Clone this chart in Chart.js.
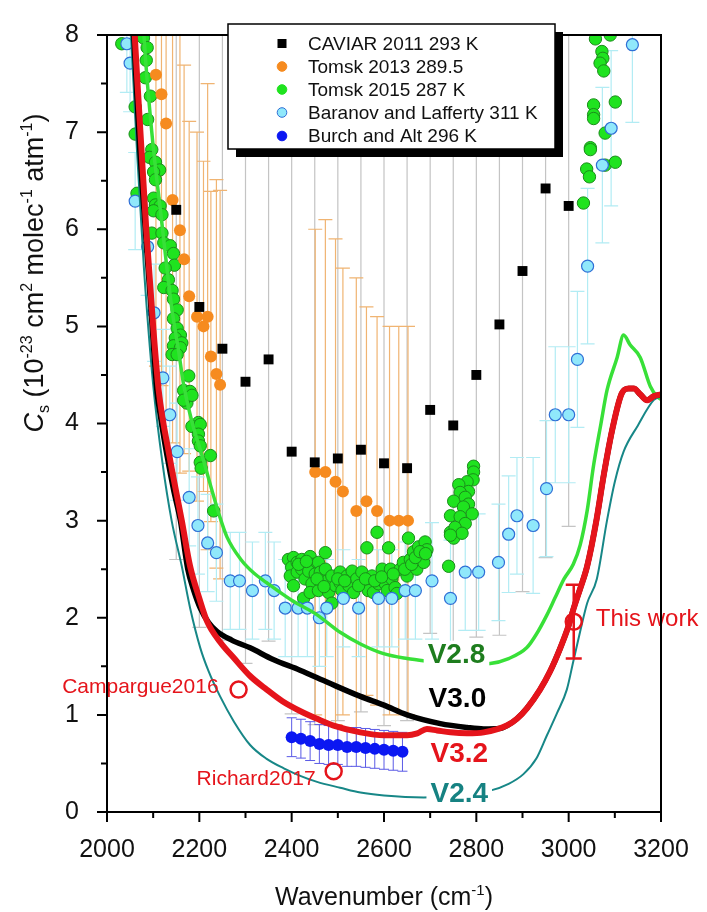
<!DOCTYPE html>
<html>
<head>
<meta charset="utf-8">
<title>Water vapour self-continuum</title>
<script src="https://cdn.jsdelivr.net/npm/chart.js@4.4.1/dist/chart.umd.min.js"></script>
<style>
  body { margin: 0; background: #fff; }
  canvas { display: block; }
</style>
</head>
<body>
<canvas id="chart" width="707" height="912"></canvas>
<script>
// ---- data (wavenumber in cm-1, Cs in 1e-23 cm2 molec-1 atm-1) ----
const xTicks = [2000, 2200, 2400, 2600, 2800, 3000, 3200];
const yTicks = [0, 1, 2, 3, 4, 5, 6, 7, 8];

const caviarX = [2150, 2200, 2250, 2300, 2350, 2400, 2450, 2500, 2550, 2600, 2650, 2700, 2750, 2800, 2850, 2900, 2950, 3000];
const caviarY = [6.20, 5.20, 4.77, 4.43, 4.66, 3.71, 3.60, 3.64, 3.73, 3.59, 3.54, 4.14, 3.98, 4.50, 5.02, 5.57, 6.42, 6.24];
const caviarErrLow = [3.6, 3.3, 3.0, 2.9, 2.9, 2.7, 2.7, 2.7, 2.7, 2.7, 2.6, 2.3, 2.3, 2.7, 3.2, 3.3, 3.8, 3.3];
const caviarErrHigh = [5, 5, 5, 5, 5, 5, 5, 5, 5, 5, 5, 5, 5, 5, 5, 5, 5, 5];

const tomsk13X = [2106, 2118, 2128, 2142, 2158, 2167, 2178, 2195, 2209, 2218, 2225, 2237, 2245,
                  2451, 2473, 2495, 2511, 2540, 2562, 2585, 2612, 2632, 2652];
const tomsk13Y = [7.59, 7.39, 7.09, 6.30, 5.99, 5.69, 5.31, 5.10, 5.00, 5.10, 4.69, 4.51, 4.40,
                  3.50, 3.50, 3.40, 3.30, 3.10, 3.20, 3.10, 3.00, 3.00, 3.00];
const tomsk13Err = [3.0, 3.0, 3.0, 2.5, 2.5, 2.0, 1.8, 1.9, 1.7, 2.4, 1.7, 2.0, 2.0,
                    2.5, 2.6, 2.5, 2.3, 2.4, 2.0, 2.0, 2.0, 2.0, 2.0];

const tomsk15X = [2032, 2079, 2087, 2085, 2083, 2094, 2061, 2088, 2061, 2097, 2092, 2105, 2114, 2101, 2105, 2065,
  2101, 2105, 2115, 2101, 2119, 2097, 2119, 2123, 2137, 2144, 2146, 2126, 2133, 2123, 2141, 2144, 2152, 2144,
  2152, 2159, 2148, 2162, 2144, 2159, 2141, 2152, 2177, 2166, 2180, 2173, 2166, 2184, 2198, 2184, 2202, 2198,
  2198, 2202, 2224, 2202, 2204, 2231,
  2393, 2404, 2400, 2397, 2412, 2412, 2422, 2422, 2429, 2404, 2426, 2440, 2447, 2437, 2451, 2444, 2440, 2458,
  2473, 2462, 2466, 2458, 2473, 2477, 2480, 2487, 2495, 2505, 2505, 2509, 2487, 2520, 2524, 2531, 2534, 2541,
  2552, 2556, 2563, 2566, 2574, 2577, 2585, 2588, 2596, 2603, 2610, 2614, 2617, 2607, 2624, 2628, 2635, 2642,
  2650, 2653, 2657, 2664, 2671, 2675, 2682, 2689, 2693, 2686, 2415, 2432, 2455, 2470, 2500, 2515, 2545, 2560,
  2580, 2595, 2620, 2645, 2660, 2668, 2678, 2690,
  2740, 2744, 2751, 2794, 2794, 2793, 2780, 2762, 2783, 2765, 2751, 2776, 2783, 2772, 2791, 2744, 2765, 2776,
  2754, 2769, 2744,
  3058, 3090, 3072, 3074, 3068, 3076, 3054, 3101, 3054, 3054, 3079, 3047, 3047, 3039, 3045, 3079, 3101, 3032];
const tomsk15Y = [7.91, 7.97, 7.87, 7.74, 7.56, 7.37, 7.26, 7.13, 6.98, 6.82, 6.74, 6.69, 6.61, 6.59, 6.51, 6.37,
  6.32, 6.25, 6.24, 6.19, 6.15, 5.96, 5.96, 5.86, 5.83, 5.75, 5.63, 5.60, 5.48, 5.40, 5.37, 5.28, 5.17, 5.08,
  4.98, 4.91, 4.88, 4.83, 4.80, 4.78, 4.71, 4.71, 4.49, 4.34, 4.33, 4.21, 4.24, 4.29, 4.01, 3.97, 3.99, 3.89,
  3.82, 3.77, 3.67, 3.60, 3.54, 3.10,
  2.60, 2.62, 2.52, 2.43, 2.57, 2.47, 2.60, 2.50, 2.40, 2.33, 2.20, 2.63, 2.55, 2.48, 2.45, 2.35, 2.26, 2.57,
  2.67, 2.47, 2.36, 2.28, 2.50, 2.38, 2.26, 2.43, 2.33, 2.47, 2.36, 2.28, 2.15, 2.43, 2.33, 2.48, 2.26, 2.40,
  2.47, 2.35, 2.72, 2.28, 2.43, 2.26, 2.88, 2.35, 2.50, 2.35, 2.72, 2.50, 2.40, 2.28, 2.31, 2.25, 2.50, 2.57,
  2.43, 2.82, 2.60, 2.68, 2.50, 2.73, 2.63, 2.78, 2.70, 2.57, 2.55, 2.58, 2.40, 2.32, 2.40, 2.38, 2.33, 2.40,
  2.38, 2.42, 2.45, 2.50, 2.55, 2.62, 2.68, 2.66,
  2.53, 2.88, 2.82, 3.56, 3.50, 3.42, 3.40, 3.37, 3.30, 3.29, 3.20, 3.24, 3.17, 3.14, 3.07, 3.05, 3.04, 2.97,
  2.93, 2.87, 2.85,
  7.96, 8.00, 7.83, 7.76, 7.71, 7.63, 7.28, 7.31, 7.18, 7.14, 6.99, 6.84, 6.82, 6.62, 6.54, 6.66, 6.69, 6.27];

const baranovX = [2043, 2050, 2061, 2088, 2102, 2121, 2136, 2152, 2178, 2197, 2218, 2237, 2267, 2287, 2315, 2343,
  2362, 2386, 2414, 2434, 2460, 2476, 2512, 2545, 2588, 2617, 2646, 2668, 2704, 2744, 2776, 2805, 2848, 2870,
  2888, 2923, 2952, 2971, 3000, 3019, 3041, 3073, 3092, 3138];
const baranovY = [7.91, 7.71, 6.29, 5.82, 5.14, 4.47, 4.09, 3.71, 3.24, 2.95, 2.77, 2.67, 2.38, 2.38, 2.28, 2.38,
  2.28, 2.10, 2.10, 2.10, 2.00, 2.10, 2.20, 2.10, 2.20, 2.20, 2.28, 2.28, 2.38, 2.20, 2.47, 2.47, 2.57, 2.86,
  3.05, 2.95, 3.33, 4.09, 4.09, 4.66, 5.62, 6.66, 7.04, 7.90];
const baranovErr = [0.5, 0.5, 0.5, 0.5, 0.5, 0.5, 0.5, 0.5, 0.5, 0.5, 0.5, 0.5, 0.5, 0.5, 0.5, 0.5,
  0.5, 0.5, 0.5, 0.5, 0.5, 0.5, 0.5, 0.5, 0.5, 0.5, 0.5, 0.5, 0.6, 0.6, 0.6, 0.6, 0.6, 0.6,
  0.6, 0.7, 0.7, 0.7, 0.7, 0.7, 0.8, 0.8, 0.8, 0.8];

const burchX = [2400, 2420, 2440, 2460, 2480, 2500, 2520, 2540, 2560, 2580, 2600, 2620, 2640];
const burchY = [0.77, 0.755, 0.73, 0.70, 0.69, 0.69, 0.67, 0.67, 0.66, 0.65, 0.64, 0.63, 0.62];
const burchErr = [0.2, 0.2, 0.2, 0.2, 0.2, 0.2, 0.2, 0.2, 0.2, 0.2, 0.2, 0.2, 0.2];

// MT_CKD model curves
const v24X = [2040, 2052, 2065, 2080, 2100, 2120, 2140, 2162, 2180, 2202, 2220, 2245, 2275, 2310, 2345, 2383,
  2420, 2455, 2505, 2549, 2600, 2686, 2760, 2830, 2870, 2902, 2930, 2953, 2975, 2996, 3010, 3025, 3040, 3061,
  3083, 3100, 3119, 3150, 3184, 3200];
const v24Y = [9.0, 8.0, 6.8, 5.6, 4.4, 3.6, 3.0, 2.53, 2.1, 1.69, 1.45, 1.19, 0.93, 0.69, 0.55, 0.45,
  0.37, 0.31, 0.25, 0.20, 0.17, 0.15, 0.17, 0.22, 0.29, 0.39, 0.55, 0.79, 1.02, 1.26, 1.55, 1.86, 2.15, 2.4,
  3.0, 3.4, 3.71, 3.98, 4.24, 4.28];

const v28X = [2070, 2080, 2097, 2118, 2140, 2155, 2166, 2185, 2206, 2225, 2245, 2260, 2290, 2318, 2346, 2400,
  2455, 2505, 2549, 2599, 2650, 2700, 2760, 2830, 2870, 2909, 2930, 2953, 2970, 2990, 3010, 3025, 3040, 3054,
  3070, 3083, 3105, 3119, 3133, 3155, 3177, 3191, 3200];
const v28Y = [9.0, 8.0, 7.0, 6.1, 5.2, 4.75, 4.4, 4.0, 3.67, 3.35, 3.03, 2.83, 2.6, 2.46, 2.36, 2.18,
  2.03, 1.85, 1.73, 1.63, 1.58, 1.55, 1.52, 1.53, 1.58, 1.69, 1.83, 2.03, 2.2, 2.4, 2.55, 2.75, 3.1, 3.57,
  4.0, 4.34, 4.68, 4.91, 4.81, 4.68, 4.38, 4.28, 4.25];

const v30X = [2045, 2058, 2070, 2083, 2095, 2108, 2115, 2130, 2145, 2159, 2175, 2188, 2202, 2220, 2238, 2270,
  2310, 2360, 2418, 2480, 2549, 2600, 2650, 2722, 2780, 2816, 2850, 2870, 2888, 2910, 2938, 2960, 2982, 3000,
  3011, 3025, 3040, 3060, 3076, 3095, 3115, 3130, 3141, 3155, 3170, 3184, 3200];
const v30Y = [9.0, 8.0, 6.9, 6.0, 5.2, 4.34, 4.1, 3.67, 3.3, 3.0, 2.5, 2.28, 2.1, 1.95, 1.86, 1.77,
  1.69, 1.57, 1.46, 1.33, 1.19, 1.1, 1.0, 0.91, 0.87, 0.855, 0.86, 0.9, 0.96, 1.07, 1.26, 1.45, 1.69, 1.92,
  2.1, 2.3, 2.53, 3.0, 3.47, 3.95, 4.31, 4.36, 4.36, 4.3, 4.24, 4.28, 4.3];

const v32X = [2048, 2060, 2085, 2100, 2112, 2135, 2162, 2180, 2200, 2217, 2245, 2274, 2310, 2346, 2380, 2418,
  2455, 2491, 2549, 2600, 2650, 2672, 2693, 2715, 2744, 2780, 2816, 2866, 2888, 2910, 2938, 2960, 2982, 3000,
  3011, 3025, 3040, 3060, 3076, 3095, 3115, 3130, 3141, 3155, 3170, 3184, 3200];
const v32Y = [9.0, 8.0, 6.0, 5.0, 4.34, 3.67, 3.0, 2.53, 2.2, 1.96, 1.75, 1.59, 1.4, 1.26, 1.14, 1.04,
  0.96, 0.89, 0.82, 0.79, 0.79, 0.81, 0.855, 0.84, 0.82, 0.81, 0.82, 0.89, 0.96, 1.07, 1.26, 1.45, 1.69, 1.92,
  2.1, 2.3, 2.53, 3.0, 3.47, 3.95, 4.31, 4.36, 4.36, 4.3, 4.24, 4.28, 4.3];

// single reference measurements (open red circles)
const refNames = ['Campargue2016', 'Richard2017', 'This work'];
const refX = [2285, 2491, 3011];
const refY = [1.26, 0.42, 1.96];
const refErr = [0, 0, 0.38];

const legendNames = ['CAVIAR 2011 293 K', 'Tomsk 2013 289.5', 'Tomsk 2015 287 K', 'Baranov and Lafferty 311 K', 'Burch and Alt 296 K'];
const curveNames = ['V2.4', 'V2.8', 'V3.0', 'V3.2'];

// ---- styling ----
const FONT = '"Liberation Sans", Arial, Helvetica, sans-serif';
const RED = '#e5141b';
const COLORS = {
  caviar: '#000000',
  tomsk13: '#f68b1f',
  tomsk15: '#1fe31f', tomsk15Border: '#1b8c1b',
  baranov: '#90e8fb', baranovBorder: '#2f6fd6',
  burch: '#0b17f2',
  v24: '#178787', v28: '#38e038', v30: '#000000', v32: RED
};

function pts(xs, ys) {
  return xs.map((x, i) => ({ x: x, y: ys[i] }));
}

function curve(label, xs, ys, color, width, order) {
  return {
    label: label, data: pts(xs, ys), showLine: true, pointRadius: 0,
    borderColor: color, borderWidth: width, cubicInterpolationMode: 'monotone',
    order: order, clip: 0
  };
}

// error bars, annotations, frame, legend and axis titles
function drawErrorBars(chart, xs, ys, lo, hi, color, width, cap) {
  const ctx = chart.ctx, sx = chart.scales.x, sy = chart.scales.y;
  ctx.save();
  ctx.strokeStyle = color;
  ctx.lineWidth = width;
  ctx.beginPath();
  xs.forEach((xv, i) => {
    if (!lo[i] && !hi[i]) return;
    const x = sx.getPixelForValue(xv);
    const yTop = sy.getPixelForValue(ys[i] + hi[i]);
    const yBot = sy.getPixelForValue(ys[i] - lo[i]);
    ctx.moveTo(x, yTop); ctx.lineTo(x, yBot);
    ctx.moveTo(x - cap / 2, yTop); ctx.lineTo(x + cap / 2, yTop);
    ctx.moveTo(x - cap / 2, yBot); ctx.lineTo(x + cap / 2, yBot);
  });
  ctx.stroke();
  ctx.restore();
}

function richWidth(ctx, parts) {
  let w = 0;
  parts.forEach(p => {
    ctx.font = (p.italic ? 'italic ' : '') + p.size + 'px ' + FONT;
    w += ctx.measureText(p.t).width;
  });
  return w;
}

function drawRich(ctx, parts, cx, baseline) {
  let x = cx - richWidth(ctx, parts) / 2;
  ctx.textAlign = 'left';
  ctx.textBaseline = 'alphabetic';
  parts.forEach(p => {
    ctx.font = (p.italic ? 'italic ' : '') + p.size + 'px ' + FONT;
    ctx.fillText(p.t, x, baseline + (p.dy || 0));
    x += ctx.measureText(p.t).width;
  });
}

const curveLabels = [
  { text: 'V2.8', x: 2757, y: 1.62, color: '#1e7d1e', knockout: true },
  { text: 'V3.0', x: 2759, y: 1.17, color: '#000000', knockout: false },
  { text: 'V3.2', x: 2763, y: 0.60, color: RED, knockout: false },
  { text: 'V2.4', x: 2763, y: 0.19, color: '#168282', knockout: true }
];
const refLabelOffsets = [{ dx: -20, dy: -2, align: 'right' }, { dx: -18, dy: 8, align: 'right' }, { dx: 22, dy: -2, align: 'left' }];

const overlay = {
  id: 'overlay',
  beforeDatasetsDraw(chart) {
    const ctx = chart.ctx, a = chart.chartArea;
    ctx.save();
    ctx.beginPath();
    ctx.rect(a.left, a.top, a.right - a.left, a.bottom - a.top);
    ctx.clip();
    drawErrorBars(chart, caviarX, caviarY, caviarErrLow, caviarErrHigh, '#c4c4c4', 1.2, 14);
    drawErrorBars(chart, tomsk13X, tomsk13Y, tomsk13Err, tomsk13Err, '#f0b472', 1.2, 14);
    drawErrorBars(chart, baranovX, baranovY, baranovErr, baranovErr, '#b2ecf4', 1.2, 14);
    drawErrorBars(chart, burchX, burchY, burchErr, burchErr, '#5a5ae6', 1, 10);
    ctx.restore();
  },
  afterDatasetsDraw(chart) {
    const ctx = chart.ctx, sx = chart.scales.x, sy = chart.scales.y;
    // error bar on this work, drawn over the curves
    drawErrorBars(chart, refX, refY, refErr, refErr, RED, 2.5, 16);

    ctx.save();
    ctx.font = 'bold 28px ' + FONT;
    ctx.textAlign = 'center';
    ctx.textBaseline = 'middle';
    curveLabels.forEach(l => {
      const x = sx.getPixelForValue(l.x), y = sy.getPixelForValue(l.y);
      if (l.knockout) {
        const w = ctx.measureText(l.text).width + 8;
        ctx.fillStyle = '#fff';
        ctx.fillRect(x - w / 2, y - 14, w, 28);
      }
      ctx.fillStyle = l.color;
      ctx.fillText(l.text, x, y + 1);
    });

    ctx.fillStyle = RED;
    refNames.forEach((name, i) => {
      const o = refLabelOffsets[i];
      ctx.font = (i === 2 ? 24 : 21) + 'px ' + FONT;
      ctx.textAlign = o.align;
      ctx.fillText(name, sx.getPixelForValue(refX[i]) + o.dx, sy.getPixelForValue(refY[i]) + o.dy);
    });
    ctx.restore();
  },
  afterDraw(chart) {
    const ctx = chart.ctx, a = chart.chartArea, sx = chart.scales.x, sy = chart.scales.y;
    ctx.save();
    // frame and tick marks
    ctx.strokeStyle = '#000';
    ctx.lineWidth = 2;
    ctx.strokeRect(a.left, a.top, a.right - a.left, a.bottom - a.top);
    ctx.beginPath();
    for (let v = sx.min; v <= sx.max; v += 100) {
      const x = sx.getPixelForValue(v);
      ctx.moveTo(x, a.bottom);
      ctx.lineTo(x, a.bottom + (v % 200 === 0 ? 10 : 6));
    }
    for (let v = sy.min; v <= sy.max; v += 0.5) {
      const y = sy.getPixelForValue(v);
      ctx.moveTo(a.left, y);
      ctx.lineTo(a.left - (Number.isInteger(v) ? 10 : 6), y);
    }
    ctx.stroke();

    // legend with drop shadow
    const lx = 228, ly = 24, lw = 327, lh = 125;
    ctx.fillStyle = '#000';
    ctx.fillRect(lx + 8, ly + 8, lw, lh);
    ctx.fillStyle = '#fff';
    ctx.fillRect(lx, ly, lw, lh);
    ctx.lineWidth = 1.5;
    ctx.strokeRect(lx, ly, lw, lh);
    const rowY = [43.5, 66.5, 89.5, 112.5, 136];
    const markers = [
      { type: 'rect', fill: COLORS.caviar },
      { type: 'circle', fill: COLORS.tomsk13, stroke: COLORS.tomsk13 },
      { type: 'circle', fill: COLORS.tomsk15, stroke: COLORS.tomsk15 },
      { type: 'circle', fill: COLORS.baranov, stroke: COLORS.baranovBorder },
      { type: 'circle', fill: COLORS.burch, stroke: COLORS.burch }
    ];
    legendNames.forEach((name, i) => {
      const m = markers[i], mx = 282, my = rowY[i];
      ctx.fillStyle = m.fill;
      if (m.type === 'rect') {
        ctx.fillRect(mx - 4.5, my - 4.5, 9, 9);
      } else {
        ctx.beginPath();
        ctx.arc(mx, my, 4.8, 0, Math.PI * 2);
        ctx.fill();
        ctx.strokeStyle = m.stroke;
        ctx.lineWidth = 1;
        ctx.stroke();
      }
      ctx.fillStyle = '#111';
      ctx.font = '19px ' + FONT;
      ctx.textAlign = 'left';
      ctx.textBaseline = 'middle';
      ctx.fillText(name, 308, my + 1);
    });

    // axis titles
    ctx.fillStyle = '#111';
    drawRich(ctx, [
      { t: 'Wavenumber (cm', size: 25 },
      { t: '-1', size: 15, dy: -10 },
      { t: ')', size: 25 }
    ], (a.left + a.right) / 2, 905);

    ctx.translate(43, 273);
    ctx.rotate(-Math.PI / 2);
    drawRich(ctx, [
      { t: 'C', size: 27, italic: true },
      { t: 's', size: 16, dy: 6 },
      { t: ' (10', size: 27 },
      { t: '-23', size: 16, dy: -11 },
      { t: ' cm', size: 27 },
      { t: '2', size: 16, dy: -11 },
      { t: ' molec', size: 27 },
      { t: '-1', size: 16, dy: -11 },
      { t: ' atm', size: 27 },
      { t: '-1', size: 16, dy: -11 },
      { t: ')', size: 27 }
    ], 0, 0);
    ctx.restore();
  }
};

const datasets = [
  { label: refNames.join(', '), data: pts(refX, refY), pointRadius: 8, pointBorderWidth: 2.5,
    pointBackgroundColor: 'rgba(0,0,0,0)', pointBorderColor: RED, order: 0, clip: 0 },
  curve(curveNames[3], v32X, v32Y, COLORS.v32, 6, 1),
  curve(curveNames[2], v30X, v30Y, COLORS.v30, 5.5, 2),
  curve(curveNames[0], v24X, v24Y, COLORS.v24, 2, 3),
  curve(curveNames[1], v28X, v28Y, COLORS.v28, 3.5, 4),
  { label: legendNames[4], data: pts(burchX, burchY), pointRadius: 6, pointBorderWidth: 0,
    pointBackgroundColor: COLORS.burch, order: 5, clip: 0 },
  { label: legendNames[0], data: pts(caviarX, caviarY), pointStyle: 'rect', pointRadius: 7, pointBorderWidth: 0,
    pointBackgroundColor: COLORS.caviar, order: 6, clip: 0 },
  { label: legendNames[3], data: pts(baranovX, baranovY), pointRadius: 6, pointBorderWidth: 1.2,
    pointBackgroundColor: COLORS.baranov, pointBorderColor: COLORS.baranovBorder, order: 7, clip: 0 },
  { label: legendNames[1], data: pts(tomsk13X, tomsk13Y), pointRadius: 6, pointBorderWidth: 0,
    pointBackgroundColor: COLORS.tomsk13, order: 8, clip: 0 },
  { label: legendNames[2], data: pts(tomsk15X, tomsk15Y), pointRadius: 6.2, pointBorderWidth: 1,
    pointBackgroundColor: COLORS.tomsk15, pointBorderColor: COLORS.tomsk15Border, order: 9, clip: 0 }
];

new Chart(document.getElementById('chart'), {
  type: 'scatter',
  data: { datasets: datasets },
  options: {
    responsive: false,
    animation: false,
    events: [],
    layout: { padding: { top: 17, right: 46, left: 0, bottom: 0 } },
    plugins: { legend: { display: false }, tooltip: { enabled: false } },
    scales: {
      x: {
        type: 'linear', min: xTicks[0], max: xTicks[xTicks.length - 1],
        afterFit(scale) { scale.height = 100; },
        afterBuildTicks(scale) { scale.ticks = xTicks.map(v => ({ value: v })); },
        grid: { display: false }, border: { display: false },
        ticks: { autoSkip: false, maxRotation: 0, padding: 15, color: '#111', font: { family: FONT, size: 25 },
                 callback: v => String(v) }
      },
      y: {
        type: 'linear', min: yTicks[0], max: yTicks[yTicks.length - 1],
        afterFit(scale) { scale.width = 107; },
        afterBuildTicks(scale) { scale.ticks = yTicks.map(v => ({ value: v })); },
        grid: { display: false }, border: { display: false },
        ticks: { autoSkip: false, padding: 20, color: '#111', font: { family: FONT, size: 25 },
                 callback: v => String(v) }
      }
    }
  },
  plugins: [overlay]
});
</script>
</body>
</html>
